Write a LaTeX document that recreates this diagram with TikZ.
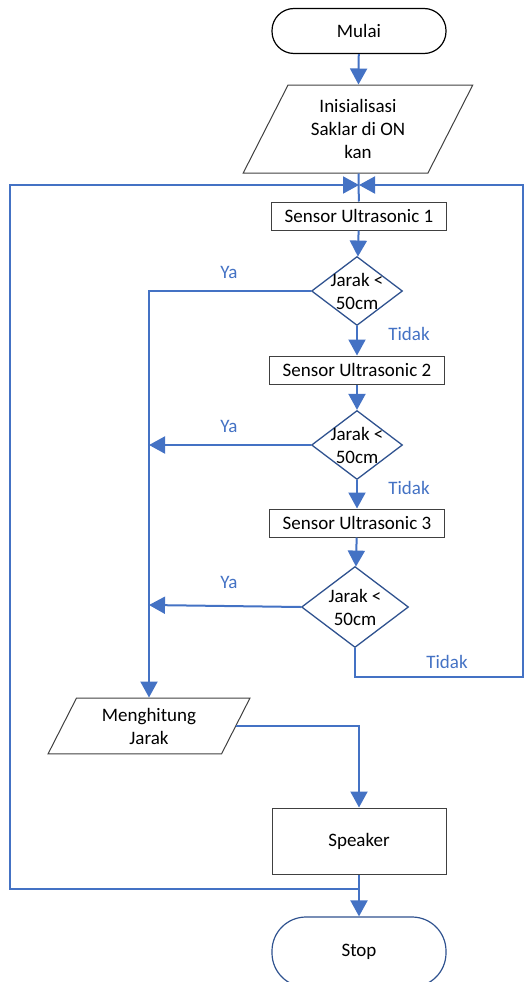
\documentclass[tikz,border=0pt]{standalone}
\usepackage{fontspec}
\setmainfont{Carlito}
\usepackage{tikz}
\usetikzlibrary{shapes.geometric, shapes.misc, arrows.meta, positioning, calc}
\definecolor{flowblue}{HTML}{4472C4}
\definecolor{deepblue}{HTML}{2F528F}
\definecolor{boxgray}{HTML}{404040}

\tikzset{
	terminal/.style={draw, rounded corners=22pt, minimum width=174pt, minimum height=45pt, line width=1.2pt},
	process/.style={draw=boxgray, rectangle, minimum width=175pt, minimum height=28pt, inner sep=0pt, line width=1pt},
	inout/.style={draw=boxgray, trapezium, trapezium left angle=63, trapezium right angle=117, align=center, inner sep=0pt, line width=1pt},
	decision/.style={draw=deepblue, diamond, minimum width=91pt, minimum height=69pt, inner sep=0pt, line width=1.3pt},
	flow/.style={draw=flowblue, line width=2pt},
	flowarr/.style={flow, -{Triangle[length=16pt, width=17pt]}},
	answer/.style={text=flowblue}
}

\begin{document}
\begin{tikzpicture}[x=1pt, y=-1pt, every node/.style={font=\fontsize{19}{23}\selectfont}]
	\useasboundingbox (0,0) rectangle (524,982);

	\node[terminal] (mulai) at (359,31) {Mulai};
	\node[inout, minimum width=218pt, minimum height=88pt] (init) at (358,129) {Inisialisasi\\Saklar di ON\\kan};
	\node[process] (sensor1) at (359,216) {Sensor Ultrasonic 1};
	\node[decision, label={[align=center]center:Jarak <\\50cm}] (cek1) at (357,291) {};
	\node[process] (sensor2) at (357,370) {Sensor Ultrasonic 2};
	\node[decision, label={[align=center]center:Jarak <\\50cm}] (cek2) at (357,445) {};
	\node[process] (sensor3) at (357,523) {Sensor Ultrasonic 3};
	\node[decision, minimum width=107pt, minimum height=81pt, label={[align=center]center:Jarak <\\50cm}] (cek3) at (355,607) {};
	\node[inout, minimum width=202pt, minimum height=55pt] (hitung) at (149,726) {Menghitung\\Jarak};
	\node[process, minimum width=174pt, minimum height=66pt] (speaker) at (359,841) {Speaker};
	\node[terminal, draw=deepblue, rounded corners=34pt, minimum height=70pt] (stop) at (359,952) {Stop};

	\node[answer] (ya1) at (229,272) {Ya};
	\node[answer] (ya2) at (229,426) {Ya};
	\node[answer] (ya3) at (229,582) {Ya};
	\node[answer] (tidak1) at (409,334) {Tidak};
	\node[answer] (tidak2) at (409,488) {Tidak};
	\node[answer] (tidak3) at (447,662) {Tidak};

	\coordinate (gabung) at (359,185);
	\coordinate (ya2end) at (149,445);
	\coordinate (ya3end) at (149,605);
	\coordinate (kanan) at (523,677);
	\coordinate (cabang) at (359,889);
	\coordinate (kiri) at (10,889);

	\draw[flowarr] (mulai) -- (init);
	\draw[flow] (init) -- (sensor1);
	\draw[flowarr] (sensor1) -- (cek1);
	\draw[flowarr] (cek1.west) -| (hitung.north);
	\draw[flowarr] (cek1) -- (sensor2);
	\draw[flowarr] (sensor2) -- (cek2);
	\draw[flowarr] (cek2.west) -- (ya2end);
	\draw[flowarr] (cek2) -- (sensor3);
	\draw[flowarr] (sensor3) -- (cek3);
	\draw[flowarr] (cek3.west) -- (ya3end);
	\draw[flowarr] (cek3.south) |- (kanan) |- (gabung);
	\draw[flowarr] (hitung.east) -| (speaker.north);
	\draw[flowarr] (speaker) -- (stop);
	\draw[flowarr] (cabang) -- (kiri) |- (gabung);
\end{tikzpicture}
\end{document}
